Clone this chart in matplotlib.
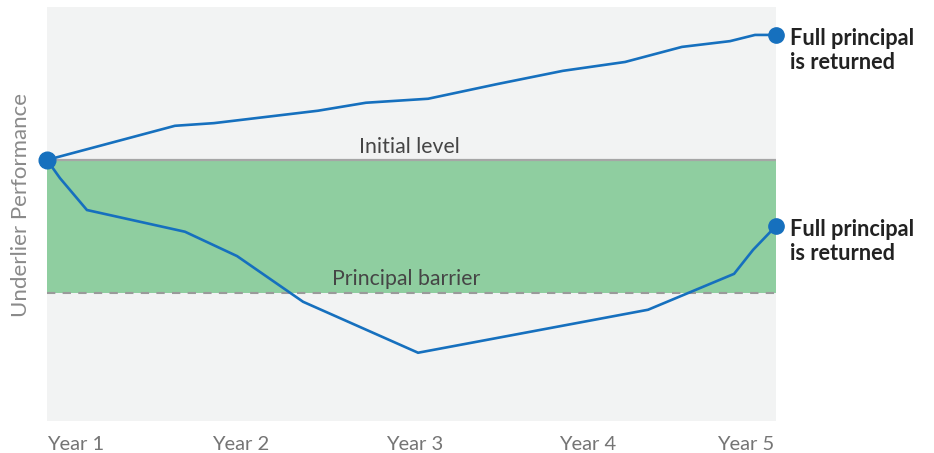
import matplotlib
matplotlib.use("Agg")
import matplotlib.pyplot as plt

# time in years since Year 1, value as % of initial level
up_x = [0.0, 0.702, 0.916, 1.487, 1.750, 2.091, 2.469, 2.831, 3.172, 3.484, 3.748, 3.885, 4.0]
up_y = [100.0, 107.7, 108.3, 111.1, 112.9, 113.8, 117.1, 120.1, 122.1, 125.5, 126.8, 128.2, 128.2]

down_x = [0.0, 0.071, 0.219, 0.757, 1.043, 1.405, 2.036, 3.298, 3.770, 3.874, 4.0]
down_y = [100.0, 95.9, 88.7, 83.8, 78.3, 68.0, 56.5, 66.2, 74.3, 79.7, 85.1]

initial_level = 100
barrier = 70

tick_pos = [0.155, 1.06, 2.015, 2.965, 3.835]
tick_labels = ["Year 1", "Year 2", "Year 3", "Year 4", "Year 5"]

blue = "#1670be"
plt.rcParams["font.family"] = ["Lato", "DejaVu Sans"]

fig = plt.figure(figsize=(9.34, 4.53), dpi=100)
ax = fig.add_axes([47 / 934, 1 - 421 / 453, 729 / 934, 414 / 453])
ax.set_facecolor("#f2f3f3")
ax.set_xlim(0, 4)
ax.set_ylim(41.1, 134.5)

# protected zone between barrier and initial level
ax.axhspan(barrier, initial_level, color="#8fcea0", lw=0, zorder=1)
ax.axhline(initial_level, color="#a6a6a6", lw=1.6, zorder=2)
ax.axhline(barrier, color="#9a9a9a", lw=1.5, ls=(0, (4, 3.5)), zorder=2)

ax.plot(up_x, up_y, color=blue, lw=1.9, zorder=3, solid_joinstyle="miter")
ax.plot(down_x, down_y, color=blue, lw=1.9, zorder=3, solid_joinstyle="miter")

# markers at start and end points
ax.plot([up_x[0]], [up_y[0]], "o", color=blue, ms=12, zorder=4, clip_on=False)
ax.plot([up_x[-1], down_x[-1]], [up_y[-1], down_y[-1]], "o", color=blue, ms=11,
        zorder=4, clip_on=False)

ax.text(1.99, initial_level + 0.6, "Initial level", ha="center", va="bottom",
        fontsize=15.3, color="#454545")
ax.text(1.97, barrier + 0.9, "Principal barrier", ha="center", va="bottom",
        fontsize=15.3, color="#454545")

for yv in [up_y[-1], down_y[-1]]:
    ax.annotate("Full principal\nis returned", xy=(4.0, yv), xytext=(10, 5),
                textcoords="offset points", ha="left", va="top",
                fontsize=15.7, fontweight="bold", color="#222222",
                linespacing=1.2, annotation_clip=False)

ax.set_xticks(tick_pos)
ax.set_xticklabels(tick_labels, fontsize=14.5, color="#757575")
ax.tick_params(axis="x", length=0, pad=11)
ax.set_yticks([])
ax.set_ylabel("Underlier Performance", fontsize=16, color="#8a8a8a")
ax.yaxis.set_label_coords(-0.022, 0.522)
for s in ax.spines.values():
    s.set_visible(False)

fig.savefig("out.png", dpi=100)
